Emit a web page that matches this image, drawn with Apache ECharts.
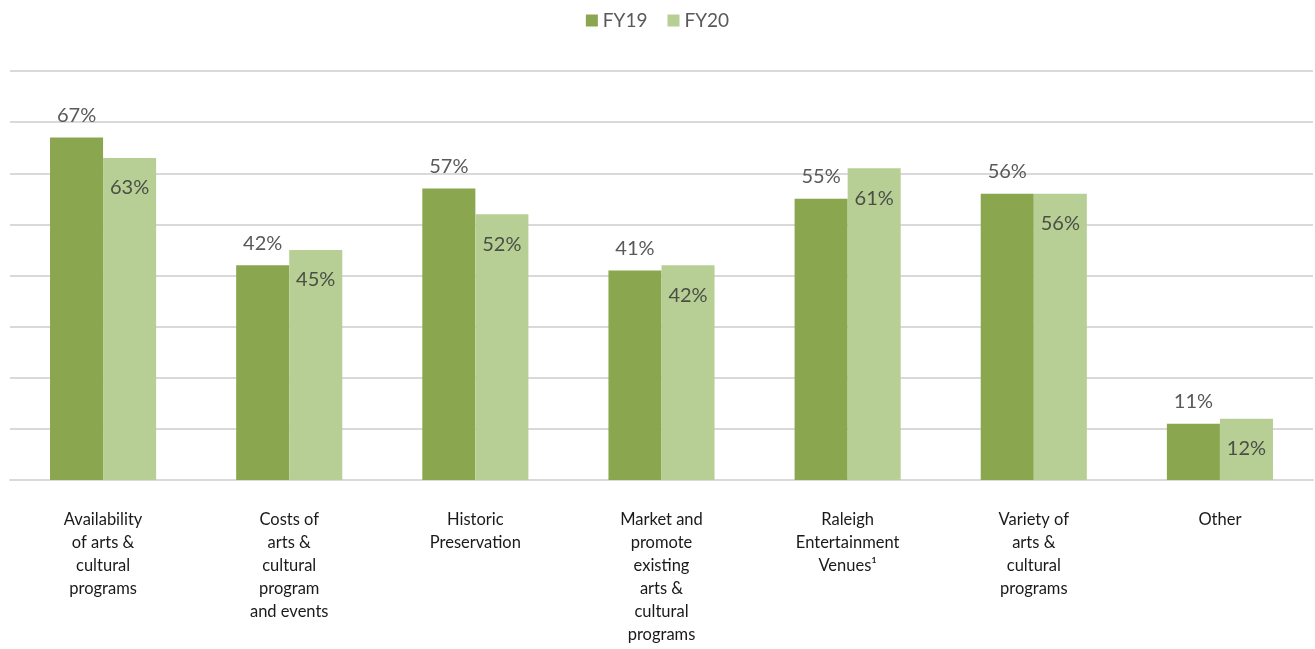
<!DOCTYPE html>
<html>
<head>
<meta charset="utf-8">
<script src="https://cdn.jsdelivr.net/npm/echarts@6/dist/echarts.min.js"></script>
<style>
  html, body { margin: 0; padding: 0; background: #fff; }
  #chart { width: 1315px; height: 649px; }
</style>
</head>
<body>
<div id="chart"></div>
<script>
const categories = [
  'Availability\nof arts &\ncultural\nprograms',
  'Costs of\narts &\ncultural\nprogram\nand events',
  'Historic\nPreservation',
  'Market and\npromote\nexisting\narts &\ncultural\nprograms',
  'Raleigh\nEntertainment\nVenues¹',
  'Variety of\narts &\ncultural\nprograms',
  'Other'
]
const fy19 = [67, 42, 57, 41, 55, 56, 11]
const fy20 = [63, 45, 52, 42, 61, 56, 12]

const font = 'Lato, "Open Sans", sans-serif'
const chart = echarts.init(document.getElementById('chart'))

chart.setOption({
  animation: false,
  textStyle: { fontFamily: font },
  legend: {
    top: 6,
    left: 'center',
    itemWidth: 12,
    itemHeight: 12,
    itemGap: 20,
    icon: 'rect',
    textStyle: { color: '#595959', fontSize: 19, fontFamily: font }
  },
  grid: { left: 10, right: 2, top: 71, bottom: 169 },
  xAxis: {
    type: 'category',
    data: categories,
    axisLine: { lineStyle: { color: '#d9d9d9', width: 2 } },
    axisTick: { show: false },
    axisLabel: {
      color: '#1a1a1a',
      fontSize: 16.5,
      lineHeight: 23,
      margin: 28,
      interval: 0,
      fontFamily: font
    }
  },
  yAxis: {
    type: 'value',
    min: 0,
    max: 80,
    interval: 10,
    axisLabel: { show: false },
    axisLine: { show: false },
    axisTick: { show: false },
    splitLine: { lineStyle: { color: '#d9d9d9', width: 2 } }
  },
  series: [
    {
      name: 'FY19',
      type: 'bar',
      data: fy19,
      barGap: '0%',
      barCategoryGap: '43%',
      itemStyle: { color: '#8aa64f' },
      label: {
        show: true,
        position: 'top',
        distance: 12,
        formatter: '{c}%',
        color: '#595959',
        fontSize: 20,
        fontFamily: font
      }
    },
    {
      name: 'FY20',
      type: 'bar',
      data: fy20,
      itemStyle: { color: '#b7cf95' },
      label: {
        show: true,
        position: 'insideTop',
        distance: 20,
        formatter: '{c}%',
        color: '#4a4f45',
        fontSize: 20,
        fontFamily: font
      }
    }
  ]
})
</script>
</body>
</html>
